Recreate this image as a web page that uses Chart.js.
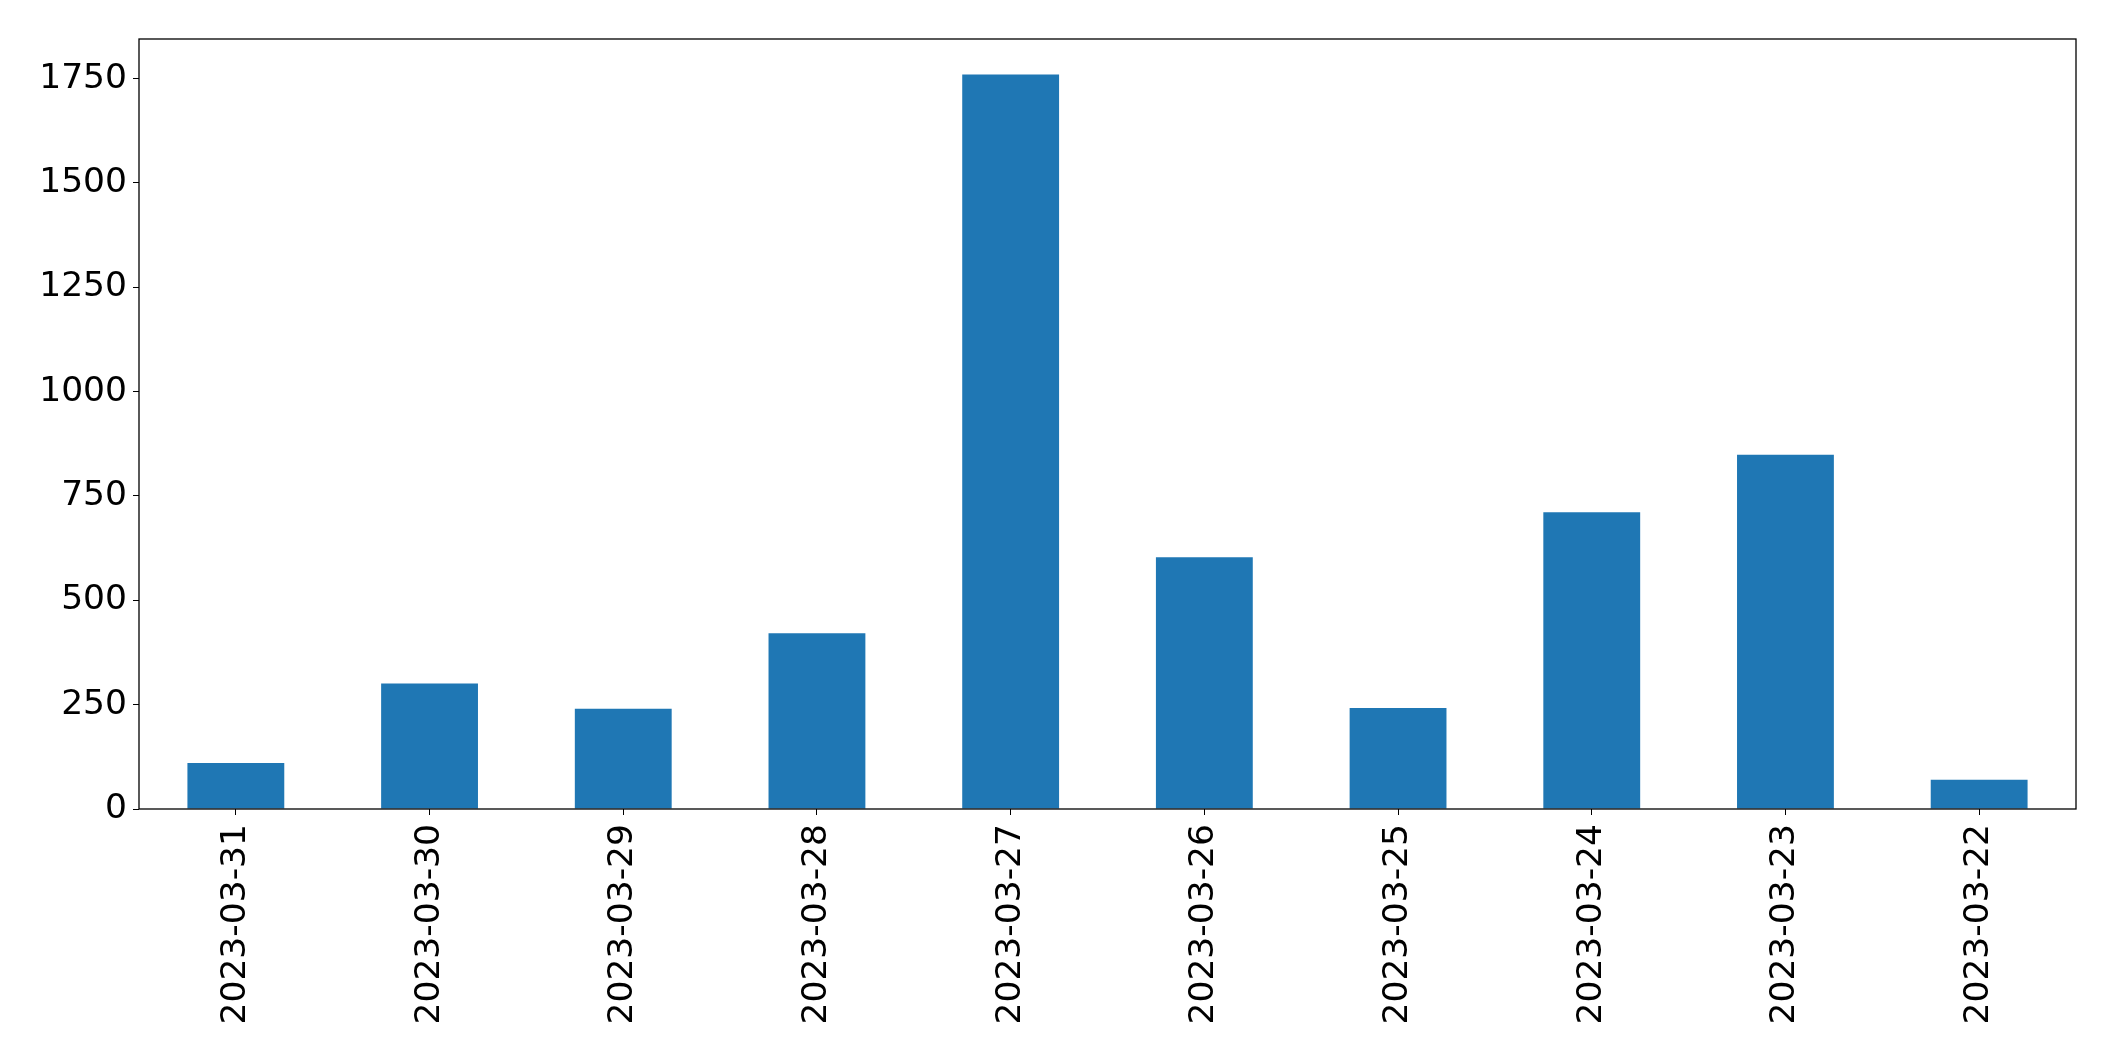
<!DOCTYPE html>
<html>
<head>
<meta charset="utf-8">
<script src="https://cdn.jsdelivr.net/npm/chart.js@4"></script>
<style>
  html, body { margin: 0; padding: 0; background: #fff; }
  #wrap { width: 2115px; height: 1061px; }
</style>
</head>
<body>
<div id="wrap"><canvas id="chart"></canvas></div>
<script>
// ---- Data ---------------------------------------------------
const dates  = ["2023-03-31", "2023-03-30", "2023-03-29", "2023-03-28", "2023-03-27",
                "2023-03-26", "2023-03-25", "2023-03-24", "2023-03-23", "2023-03-22"];
const counts = [110, 301, 240, 421, 1760, 603, 242, 711, 849, 70];
const yTicks = [0, 250, 500, 750, 1000, 1250, 1500, 1750];

const FONT = { family: "DejaVu Sans", size: 34.5 };

// ---- Frame round the plot area (matplotlib style box) -------
const frame = {
  id: "frame",
  afterDraw(chart) {
    const { ctx, chartArea: a } = chart;
    ctx.save();
    ctx.strokeStyle = "#000";
    ctx.lineWidth = 1.3;
    ctx.strokeRect(a.left, a.top, a.right - a.left, a.bottom - a.top);
    ctx.restore();
  },
};

new Chart(document.getElementById("chart"), {
  type: "bar",
  data: {
    labels: dates,
    datasets: [{
      data: counts,
      backgroundColor: "#1f77b4",
      categoryPercentage: 1.0,
      barPercentage: 0.5,
    }],
  },
  options: {
    responsive: true,
    maintainAspectRatio: false,
    animation: false,
    layout: { padding: { top: 39, right: 39, left: 0, bottom: 0 } },
    plugins: { legend: { display: false }, tooltip: { enabled: false } },
    scales: {
      x: {
        offset: true,
        grid: { display: true, drawOnChartArea: false, drawTicks: true, tickLength: 6, color: "#000", offset: false },
        border: { display: false },
        ticks: { color: "#000", font: FONT, minRotation: 90, maxRotation: 90, padding: 9, autoSkip: false },
        afterFit: (s) => { s.height = 252; },
      },
      y: {
        min: 0,
        max: 1845,
        afterBuildTicks: (s) => { s.ticks = yTicks.map((v) => ({ value: v })); },
        grid: { display: true, drawOnChartArea: false, drawTicks: true, tickLength: 6, color: "#000" },
        border: { display: false },
        ticks: { color: "#000", font: FONT, padding: 6, callback: (v) => String(v) },
        afterFit: (s) => { s.width = 139; },
      },
    },
  },
  plugins: [frame],
});
</script>
</body>
</html>
